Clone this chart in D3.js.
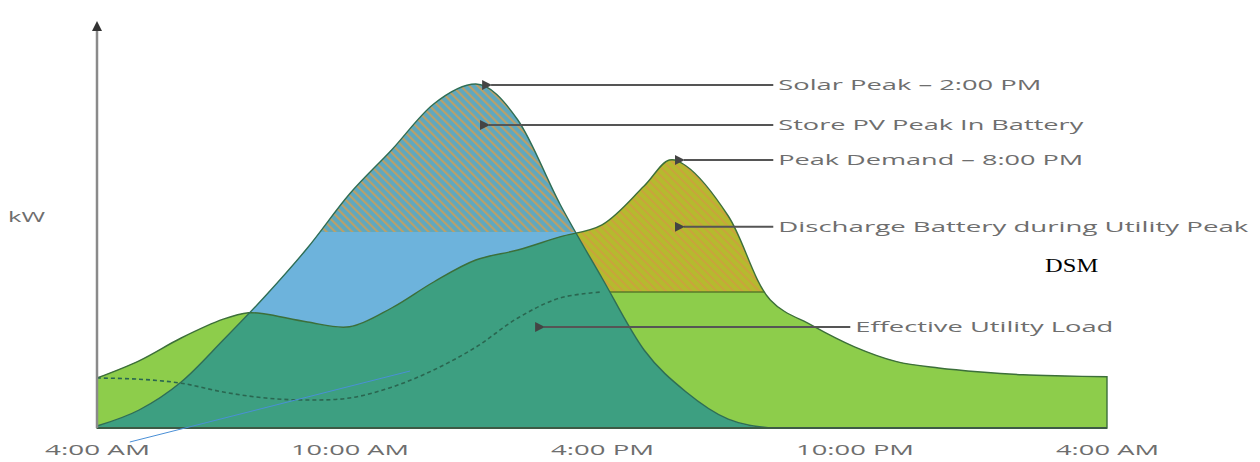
<!DOCTYPE html>
<html><head><meta charset="utf-8">
<script src="https://cdn.jsdelivr.net/npm/d3@7"></script>
<style>body{margin:0;background:#fff}svg{display:block}</style>
</head><body><svg id="c" width="1260" height="462"></svg>
<script>
// ---- data (hours after 4:00 AM, kW) ----
const tickHours = [0, 6, 12, 18, 24];
const tickLabels = ["4:00 AM", "10:00 AM", "4:00 PM", "10:00 PM", "4:00 AM"];
const demandHours = [0,1,2,3,3.6,4,5,6,7,8,9,10,11,12,13,13.6,14,15,16,17,18,19,20,21,22,23,24];
const demandKW    = [1.25,1.68,2.25,2.72,2.88,2.85,2.65,2.53,3.0,3.65,4.2,4.45,4.78,5.08,6.05,6.7,6.55,5.3,3.2,2.56,2.03,1.66,1.5,1.4,1.33,1.3,1.28];
const solarHours  = [0,1,2,3,4,5,6,7,8,9,10,11,12,13,14,15,16,17,24];
const solarKW     = [0.05,0.45,1.15,2.2,3.3,4.5,5.85,6.95,8.1,8.6,7.7,5.6,3.75,1.95,0.9,0.22,0,0,0];
const effHours    = [0,1,2,3,4,5,6,7,8,9,10,11,12];
const effKW       = [1.25,1.22,1.12,0.9,0.75,0.7,0.75,1.02,1.45,2.02,2.75,3.25,3.4];
const chargeCapKW = 4.9;     // PV above this stored in battery
const dischargeCapKW = 3.4;  // demand above this served by battery
const capLineHours = [11, 17];
const annotations = [
  {text:"Solar Peak \u2013 2:00 PM", th:9.27, tv:8.575, lh:16.07, len:263},
  {text:"Store PV Peak In Battery", th:9.22, tv:7.575, lh:16.07, len:305},
  {text:"Peak Demand \u2013 8:00 PM", th:13.85, tv:6.7, lh:16.07, len:305},
  {text:"Discharge Battery during Utility Peak", th:13.85, tv:5.03, lh:16.07, len:470},
  {text:"Effective Utility Load", th:10.53, tv:2.525, lh:17.9, len:258}
];
const leader = [{h:0.78, v:-0.35}, {h:7.44, v:1.425}];
const dsm = {text:"DSM", h:22.53, v:3.9};

// ---- scales ----
const svg = d3.select("#c");
const x = d3.scaleLinear().domain([0, 24]).range([97, 1107]);
const y = d3.scaleLinear().domain([0, 10]).range([428, 28]);

const defs = svg.append("defs");
function hatch(id, base, stripe, w) {
  const p = defs.append("pattern").attr("id", id).attr("patternUnits", "userSpaceOnUse")
    .attr("width", 6).attr("height", 6).attr("patternTransform", "rotate(-45)");
  p.append("rect").attr("width", 6).attr("height", 6).attr("fill", base);
  p.append("rect").attr("width", w).attr("height", 6).attr("fill", stripe);
}
hatch("hBlue", "#5ea8c0", "#b9a06a", 2.2);
hatch("hOlive", "#b5ba2e", "#c9a43c", 2);
const mk = defs.append("marker").attr("id", "arr").attr("viewBox", "0 0 10 10")
  .attr("refX", 1).attr("refY", 5).attr("markerWidth", 5).attr("markerHeight", 5)
  .attr("orient", "auto-start-reverse");
mk.append("path").attr("d", "M0,5L10,0L10,10Z").attr("fill", "#444");
const mk2 = defs.append("marker").attr("id", "arrUp").attr("viewBox", "0 0 10 10")
  .attr("refX", 5).attr("refY", 5).attr("markerWidth", 4).attr("markerHeight", 4)
  .attr("orient", "auto");
mk2.append("path").attr("d", "M0,0L10,5L0,10Z").attr("fill", "#333");

const dData = demandHours.map((h, i) => ({h, v: demandKW[i]}));
const sData = solarHours.map((h, i) => ({h, v: solarKW[i]}));
const eData = effHours.map((h, i) => ({h, v: effKW[i]}));
const dCurve = d3.curveCatmullRom.alpha(0.5);
const sCurve = d3.curveMonotoneX;
const areaD = d3.area().x(d => x(d.h)).y0(y(0)).y1(d => y(d.v)).curve(dCurve);
const areaS = d3.area().x(d => x(d.h)).y0(y(0)).y1(d => y(d.v)).curve(sCurve);
const lineD = d3.line().x(d => x(d.h)).y(d => y(d.v)).curve(dCurve);
const lineS = d3.line().x(d => x(d.h)).y(d => y(d.v)).curve(sCurve);

defs.append("clipPath").attr("id", "underD").append("path").attr("d", areaD(dData));
defs.append("clipPath").attr("id", "belowDis").append("rect")
  .attr("x", 0).attr("y", y(dischargeCapKW)).attr("width", 1260).attr("height", 462);
defs.append("clipPath").attr("id", "belowChg").append("rect")
  .attr("x", 0).attr("y", y(chargeCapKW)).attr("width", 1260).attr("height", 462);

// layers
svg.append("path").attr("d", areaD(dData)).attr("fill", "url(#hOlive)");
svg.append("path").attr("d", areaD(dData)).attr("fill", "#8dcd4b").attr("clip-path", "url(#belowDis)");
svg.append("path").attr("clip-path", "url(#underD)")
  .attr("d", d3.line()(capLineHours.map(h => [x(h), y(dischargeCapKW)])))
  .attr("stroke", "#5a7a2a").attr("stroke-width", 1.5).attr("fill", "none");
svg.append("path").attr("d", areaS(sData)).attr("fill", "url(#hBlue)");
svg.append("path").attr("d", areaS(sData)).attr("fill", "#6db3dc").attr("clip-path", "url(#belowChg)");
svg.append("path").attr("d", areaS(sData)).attr("fill", "#3d9f81").attr("clip-path", "url(#underD)");

// outlines
svg.append("path").attr("d", areaD(dData)).attr("fill", "none").attr("stroke", "#3c6f3a").attr("stroke-width", 1.4);
svg.append("path").attr("d", lineS(sData.filter(d => d.h <= 16))).attr("fill", "none")
  .attr("stroke", "#2f6e55").attr("stroke-width", 1.4);
svg.append("path").attr("d", lineD(eData)).attr("fill", "none").attr("stroke", "#2a6650")
  .attr("stroke-width", 1.6).attr("stroke-dasharray", "4,3");

// axes
svg.append("line").attr("x1", x(0)).attr("x2", x(24)).attr("y1", y(0)).attr("y2", y(0))
  .attr("stroke", "#3d5a45").attr("stroke-width", 2);
svg.append("line").attr("x1", x(0)).attr("x2", x(0)).attr("y1", y(0)).attr("y2", y(10.05))
  .attr("stroke", "#8a8a8a").attr("stroke-width", 2.5).attr("marker-end", "url(#arrUp)");
const xa = svg.append("g").attr("transform", `translate(0,${y(0)})`)
  .call(d3.axisBottom(x).tickValues(tickHours).tickFormat((d, i) => tickLabels[i]).tickSize(0).tickPadding(16));
xa.select(".domain").remove();
const tickLens = [105, 118, 103, 118, 103];
xa.selectAll("text").attr("font-family", "Open Sans, sans-serif").attr("font-size", 15)
  .attr("fill", "#6e6e6e").attr("textLength", (d, i) => tickLens[i]).attr("lengthAdjust", "spacingAndGlyphs");

svg.append("text").attr("x", 8).attr("y", 222).text("kW").attr("font-family", "Open Sans, sans-serif")
  .attr("font-size", 15).attr("fill", "#6e6e6e").attr("textLength", 37).attr("lengthAdjust", "spacingAndGlyphs");

// annotations
annotations.forEach(a => {
  svg.append("line").attr("x1", x(a.lh)).attr("x2", x(a.th) + 4).attr("y1", y(a.tv)).attr("y2", y(a.tv))
    .attr("stroke", "#555").attr("stroke-width", 2).attr("marker-end", "url(#arr)");
  svg.append("text").attr("x", x(a.lh) + 5).attr("y", y(a.tv) + 5).text(a.text)
    .attr("font-family", "Open Sans, sans-serif").attr("font-size", 15).attr("fill", "#6e6e6e")
    .attr("textLength", a.len).attr("lengthAdjust", "spacingAndGlyphs");
});
svg.append("line").attr("x1", x(leader[0].h)).attr("y1", y(leader[0].v))
  .attr("x2", x(leader[1].h)).attr("y2", y(leader[1].v)).attr("stroke", "#4a8fd6").attr("stroke-width", 1);
svg.append("text").attr("x", x(dsm.h)).attr("y", y(dsm.v)).text(dsm.text)
  .attr("font-family", "Liberation Serif, Times New Roman, serif").attr("font-size", 19).attr("fill", "#000")
  .attr("textLength", 53).attr("lengthAdjust", "spacingAndGlyphs");
</script></body></html>
